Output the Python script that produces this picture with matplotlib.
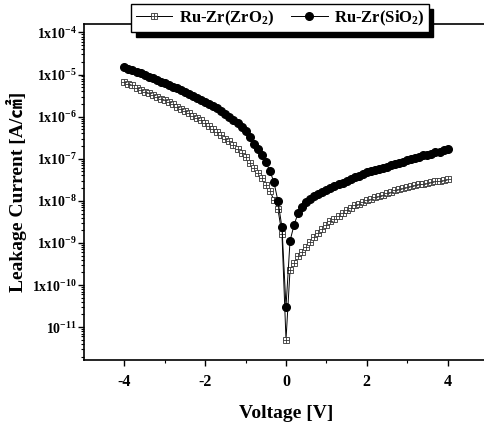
import numpy as np
import matplotlib
matplotlib.use('Agg')
import matplotlib.pyplot as plt
from matplotlib.ticker import LogLocator, NullFormatter, FixedLocator

plt.rcParams['font.family'] = ['Liberation Serif', 'DejaVu Serif']
plt.rcParams['font.weight'] = 'bold'
plt.rcParams['mathtext.fontset'] = 'custom'
plt.rcParams['mathtext.rm'] = 'Liberation Serif:bold'
plt.rcParams['mathtext.it'] = 'Liberation Serif:bold'
plt.rcParams['mathtext.bf'] = 'Liberation Serif:bold'

# barrido de voltaje [V]
voltage = [-4.0, -3.9, -3.8, -3.7, -3.6, -3.5, -3.4, -3.3, -3.2, -3.1,
           -3.0, -2.9, -2.8, -2.7, -2.6, -2.5, -2.4, -2.3, -2.2, -2.1,
           -2.0, -1.9, -1.8, -1.7, -1.6, -1.5, -1.4, -1.3, -1.2, -1.1,
           -1.0, -0.9, -0.8, -0.7, -0.6, -0.5, -0.4, -0.3, -0.2, -0.1,
           0.0, 0.1, 0.2, 0.3, 0.4, 0.5, 0.6, 0.7, 0.8, 0.9,
           1.0, 1.1, 1.2, 1.3, 1.4, 1.5, 1.6, 1.7, 1.8, 1.9,
           2.0, 2.1, 2.2, 2.3, 2.4, 2.5, 2.6, 2.7, 2.8, 2.9,
           3.0, 3.1, 3.2, 3.3, 3.4, 3.5, 3.6, 3.7, 3.8, 3.9, 4.0]

# log10 de la corriente de fuga [A/cm2]
log_zro2 = [-5.17, -5.22, -5.26, -5.31, -5.36, -5.41, -5.45, -5.49, -5.53, -5.57,
            -5.61, -5.66, -5.71, -5.76, -5.82, -5.87, -5.92, -5.98, -6.04, -6.09,
            -6.15, -6.22, -6.30, -6.37, -6.44, -6.52, -6.59, -6.67, -6.76, -6.86,
            -6.96, -7.10, -7.22, -7.35, -7.46, -7.62, -7.77, -7.97, -8.20, -8.78,
            -11.30, -9.64, -9.48, -9.32, -9.21, -9.09, -8.97, -8.86, -8.76, -8.66,
            -8.57, -8.49, -8.42, -8.35, -8.28, -8.22, -8.16, -8.11, -8.07, -8.03,
            -7.99, -7.95, -7.91, -7.88, -7.85, -7.81, -7.78, -7.75, -7.72, -7.69,
            -7.67, -7.65, -7.63, -7.61, -7.59, -7.57, -7.55, -7.54, -7.52, -7.51, -7.49]

log_sio2 = [-4.82, -4.86, -4.89, -4.93, -4.97, -5.01, -5.05, -5.09, -5.13, -5.17,
            -5.21, -5.25, -5.29, -5.33, -5.37, -5.41, -5.46, -5.50, -5.55, -5.60,
            -5.65, -5.70, -5.75, -5.80, -5.86, -5.93, -6.00, -6.08, -6.16, -6.24,
            -6.33, -6.48, -6.65, -6.76, -6.90, -7.07, -7.29, -7.55, -8.00, -8.63,
            -10.52, -8.95, -8.57, -8.29, -8.14, -8.03, -7.95, -7.89, -7.83, -7.78,
            -7.74, -7.70, -7.65, -7.61, -7.57, -7.52, -7.48, -7.44, -7.40, -7.36,
            -7.32, -7.29, -7.27, -7.25, -7.22, -7.19, -7.16, -7.13, -7.10, -7.07,
            -7.04, -7.01, -6.98, -6.95, -6.92, -6.90, -6.88, -6.85, -6.83, -6.80, -6.78]

labels = ['Ru-Zr(ZrO$_2$)', 'Ru-Zr(SiO$_2$)']
ytick_vals = [1e-4, 1e-5, 1e-6, 1e-7, 1e-8, 1e-9, 1e-10, 1e-11]
ytick_labels = [r'$1\mathrm{x}10^{-4}$', r'$1\mathrm{x}10^{-5}$', r'$1\mathrm{x}10^{-6}$',
                r'$1\mathrm{x}10^{-7}$', r'$1\mathrm{x}10^{-8}$', r'$1\mathrm{x}10^{-9}$',
                r'$1\mathrm{x}10^{-10}$', r'$10^{-11}$']

V = np.array(voltage)
I_zro2 = 10.0 ** np.array(log_zro2)
I_sio2 = 10.0 ** np.array(log_sio2)

fig = plt.figure(figsize=(4.85, 4.22), dpi=100)
ax = fig.add_axes([84 / 485, 1 - 360 / 422, 404 / 485, 336 / 422])

# ZrO2: cuadrado con cruz
l1, = ax.plot(V, I_zro2, color='k', lw=0.7, marker='s', ms=4.3,
              mfc='white', mec='#333333', mew=0.6)
l1b, = ax.plot(V, I_zro2, ls='none', marker='+', ms=4.3, mec='#333333', mew=0.6)
# SiO2: circulo lleno
l2, = ax.plot(V, I_sio2, color='k', lw=0.7, marker='o', ms=5.5,
              mfc='k', mec='k')

ax.set_yscale('log')
ax.set_xlim(-5, 5)
ax.set_ylim(10 ** -11.78, 10 ** -3.80)

ax.xaxis.set_major_locator(FixedLocator([-4, -2, 0, 2, 4]))
ax.xaxis.set_minor_locator(FixedLocator([-3, -1, 1, 3]))
ax.set_xticklabels(['-4', '-2', '0', '2', '4'], fontsize=11.5, fontweight='bold')

ax.yaxis.set_major_locator(FixedLocator(ytick_vals))
ax.set_yticklabels(ytick_labels, fontsize=10)
ax.yaxis.set_minor_locator(LogLocator(base=10, subs=np.arange(2, 10), numticks=30))
ax.yaxis.set_minor_formatter(NullFormatter())

ax.tick_params(which='major', direction='out', length=4, width=1)
ax.tick_params(which='minor', direction='out', length=2.5, width=0.8)
ax.tick_params(axis='y', pad=1)
ax.tick_params(axis='x', pad=6)

for s in ['left', 'bottom', 'top']:
    ax.spines[s].set_linewidth(1.2)
ax.spines['right'].set_visible(False)

ax.set_xlabel('Voltage [V]', fontsize=14, fontweight='bold', labelpad=11)
ax.set_ylabel('Leakage Current [A/\u33a0]', fontsize=14, fontweight='bold',
              family=['Liberation Serif', 'Noto Sans CJK JP'], labelpad=4)

leg = fig.legend([(l1, l1b), l2], labels, loc='upper center',
                 bbox_to_anchor=(0.578, 0.99), ncol=2, fontsize=12,
                 frameon=True, fancybox=False, framealpha=1, edgecolor='k',
                 shadow={'ox': 3, 'oy': -3.5, 'color': 'k', 'alpha': 1},
                 handlelength=2.2, handletextpad=0.4, columnspacing=1.0,
                 borderpad=0.25, borderaxespad=0)
leg.get_frame().set_linewidth(1.0)

fig.savefig('out.png', dpi=100)
